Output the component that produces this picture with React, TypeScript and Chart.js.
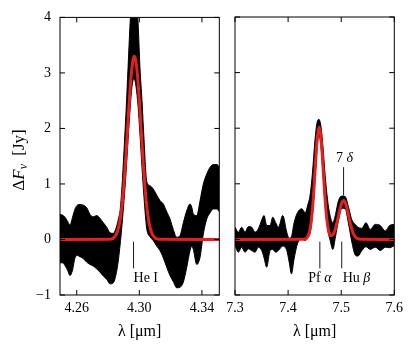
import React, { useEffect, useRef } from 'react';
import { Chart, registerables } from 'chart.js';

Chart.register(...registerables);

const FAMILY = '"Liberation Serif", "DejaVu Serif", serif';
const RED = '#e3201f';

// ---------- Left panel: 4.3 micron region ----------
const leftWave = [
  4.2493, 4.2509, 4.2525, 4.2541, 4.2557, 4.2573, 4.2589, 4.2605, 4.2621, 4.2640,
  4.2664, 4.2685, 4.2706, 4.2728, 4.2749, 4.2770, 4.2792, 4.2813, 4.2834, 4.2856,
  4.2867, 4.2877, 4.2889, 4.2902, 4.2915, 4.2928, 4.2941, 4.2953, 4.2966, 4.2979,
  4.2992, 4.3004, 4.3017, 4.3030, 4.3047, 4.3068, 4.3089, 4.3111, 4.3132, 4.3153,
  4.3175, 4.3196, 4.3217, 4.3239, 4.3260, 4.3281, 4.3303, 4.3324, 4.3335, 4.3345,
  4.3367, 4.3388, 4.3409, 4.3431, 4.3452, 4.3473, 4.3495, 4.3511,
];
const leftUpper = [
  0.45, 0.44, 0.40, 0.33, 0.26, 0.40, 0.55, 0.62, 0.63, 0.62,
  0.57, 0.45, 0.41, 0.43, 0.38, 0.30, 0.22, 0.12, 0.11, 0.25,
  0.38, 0.52, 0.95, 1.60, 2.30, 3.10, 3.90, 4.40, 4.60, 4.40,
  3.90, 3.10, 2.50, 1.80, 1.05, 0.97, 0.91, 0.80, 0.70, 0.64,
  0.50, 0.37, 0.18, 0.04, 0.07, 0.30, 0.52, 0.64, 0.58, 0.46,
  0.43, 0.70, 1.00, 1.18, 1.30, 1.35, 1.35, 1.31,
];
const leftLower = [
  -0.42, -0.42, -0.47, -0.55, -0.65, -0.55, -0.33, -0.29, -0.31, -0.34,
  -0.41, -0.45, -0.48, -0.53, -0.59, -0.66, -0.72, -0.80, -0.78, -0.56,
  -0.35, -0.10, 0.25, 0.70, 1.20, 1.80, 2.35, 2.75, 2.90, 2.75,
  2.40, 1.90, 1.30, 0.75, 0.20, 0.05, -0.02, -0.12, -0.20, -0.33,
  -0.50, -0.65, -0.76, -0.87, -0.86, -0.77, -0.50, -0.20, -0.12, -0.18,
  -0.45, -0.32, 0.10, 0.37, 0.48, 0.55, 0.55, 0.50,
];
const leftFitWave = [
  4.2493, 4.2810, 4.2830, 4.2850, 4.2870, 4.2880, 4.2890, 4.2900, 4.2910, 4.2920,
  4.2930, 4.2940, 4.2950, 4.2960, 4.2968, 4.2976, 4.2986, 4.2996, 4.3006, 4.3016,
  4.3026, 4.3036, 4.3046, 4.3056, 4.3066, 4.3086, 4.3106, 4.3126, 4.3511,
];
const leftFitFlux = [
  0, 0.004, 0.019, 0.077, 0.246, 0.406, 0.637, 0.945, 1.33, 1.77,
  2.23, 2.67, 3.02, 3.24, 3.30, 3.24, 3.02, 2.67, 2.23, 1.77,
  1.33, 0.945, 0.637, 0.406, 0.246, 0.077, 0.019, 0.004, 0,
];
const leftXTicks = [4.26, 4.30, 4.34];
const leftLineNames = ['He I'];
const leftLineWaves = [4.2963];

// ---------- Right panel: 7.5 micron region ----------
const rightWave = [
  7.3000, 7.3063, 7.3126, 7.3189, 7.3252, 7.3314, 7.3377, 7.3440, 7.3503, 7.3547,
  7.3597, 7.3660, 7.3711, 7.3767, 7.3818, 7.3899, 7.3975, 7.4019, 7.4063, 7.4113,
  7.4176, 7.4258, 7.4321, 7.4371, 7.4415, 7.4459, 7.4503, 7.4541, 7.4579, 7.4616,
  7.4654, 7.4698, 7.4742, 7.4792, 7.4843, 7.4893, 7.4950, 7.5013, 7.5075, 7.5138,
  7.5201, 7.5264, 7.5314, 7.5390, 7.5465, 7.5547, 7.5642, 7.5736, 7.5830, 7.5912,
  7.6000,
];
const rightUpper = [
  0.22, 0.13, 0.22, 0.13, 0.23, 0.22, 0.13, 0.19, 0.35, 0.43,
  0.25, 0.25, 0.40, 0.30, 0.22, 0.43, 0.13, 0.02, 0.05, 0.30,
  0.48, 0.55, 0.48, 0.62, 0.80, 1.20, 1.75, 2.08, 2.16, 2.05,
  1.70, 1.15, 0.72, 0.42, 0.30, 0.45, 0.70, 0.78, 0.77, 0.58,
  0.35, 0.27, 0.22, 0.20, 0.30, 0.18, 0.27, 0.25, 0.15, 0.25,
  0.27,
];
const rightLower = [
  -0.11, -0.23, -0.14, -0.23, -0.17, -0.20, -0.23, -0.14, -0.20, -0.33,
  -0.50, -0.20, -0.18, -0.23, -0.20, -0.12, -0.20, -0.40, -0.62, -0.35,
  -0.08, 0.02, -0.02, 0.03, 0.12, 0.45, 1.02, 1.58, 1.88, 1.70,
  1.22, 0.62, 0.20, -0.02, -0.18, 0.05, 0.35, 0.56, 0.55, 0.28,
  -0.05, -0.28, -0.30, -0.20, -0.13, -0.18, -0.14, -0.20, -0.14, -0.15,
  -0.11,
];
const rightFitWave = [
  7.3000, 7.4300, 7.4350, 7.4400, 7.4430, 7.4460, 7.4490, 7.4520, 7.4550, 7.4585,
  7.4620, 7.4650, 7.4680, 7.4710, 7.4740, 7.4770, 7.4800, 7.4830, 7.4860, 7.4890,
  7.4920, 7.4950, 7.4980, 7.5010, 7.5044, 7.5080, 7.5110, 7.5140, 7.5170, 7.5200,
  7.5240, 7.5280, 7.5330, 7.5400, 7.6000,
];
const rightFitFlux = [
  0, 0.003, 0.022, 0.121, 0.281, 0.559, 0.962, 1.428, 1.826, 2.02,
  1.826, 1.428, 0.963, 0.560, 0.285, 0.132, 0.071, 0.070, 0.111, 0.189,
  0.299, 0.429, 0.558, 0.657, 0.70, 0.652, 0.550, 0.420, 0.291, 0.182,
  0.083, 0.032, 0.008, 0.001, 0,
];
const rightXTicks = [7.3, 7.4, 7.5, 7.6];
const rightLineNames = ['Pf α', 'Hu β'];
const rightLineWaves = [7.4598, 7.5010];
const rightUpperNames = ['7 δ'];
const rightUpperWaves = [7.5045];

const yTicks = [-1, 0, 1, 2, 3, 4];

// ---------- drawing helpers ----------
const isGreek = (c: string) => {
  const code = c.charCodeAt(0);
  return code >= 0x370 && code <= 0x3ff;
};

function splitRuns(text: string) {
  const runs: { t: string; it: boolean }[] = [];
  for (const ch of text) {
    const it = isGreek(ch);
    const last = runs[runs.length - 1];
    if (last && last.it === it) last.t += ch;
    else runs.push({ t: ch, it });
  }
  return runs;
}

function drawRich(ctx: CanvasRenderingContext2D, text: string, x: number, y: number, align: string, size: number) {
  const runs = splitRuns(text);
  const fontOf = (it: boolean) => `${it ? 'italic ' : ''}${size}px ${FAMILY}`;
  let total = 0;
  const widths = runs.map((r) => {
    ctx.font = fontOf(r.it);
    const w = ctx.measureText(r.t).width;
    total += w;
    return w;
  });
  let cx = align === 'center' ? x - total / 2 : align === 'right' ? x - total : x;
  ctx.textAlign = 'left';
  ctx.textBaseline = 'middle';
  runs.forEach((r, i) => {
    ctx.font = fontOf(r.it);
    ctx.fillText(r.t, cx, y);
    cx += widths[i];
  });
}

const decorPlugin = {
  id: 'panelDecor',
  afterDatasetsDraw(chart: any, _args: any, opts: any) {
    const ctx: CanvasRenderingContext2D = chart.ctx;
    const { left, right, top, bottom } = chart.chartArea;
    const xs = chart.scales.x;
    const ys = chart.scales.y;
    ctx.save();
    ctx.strokeStyle = '#000';
    ctx.fillStyle = '#000';
    ctx.lineWidth = 1;
    // frame
    ctx.strokeRect(left, top, right - left, bottom - top);
    // inward ticks
    const tl = 5;
    ctx.beginPath();
    (opts.xTicks || []).forEach((v: number) => {
      const px = xs.getPixelForValue(v);
      ctx.moveTo(px, bottom);
      ctx.lineTo(px, bottom - tl);
      ctx.moveTo(px, top);
      ctx.lineTo(px, top + tl);
    });
    yTicks.forEach((v) => {
      const py = ys.getPixelForValue(v);
      ctx.moveTo(left, py);
      ctx.lineTo(left + tl, py);
      ctx.moveTo(right, py);
      ctx.lineTo(right - tl, py);
    });
    ctx.stroke();
    // line identifications below the continuum
    const lineW = 0.9;
    (opts.lines || []).forEach((ln: any) => {
      const px = xs.getPixelForValue(ln.wave);
      ctx.lineWidth = lineW;
      ctx.beginPath();
      ctx.moveTo(px, ys.getPixelForValue(-0.04));
      ctx.lineTo(px, ys.getPixelForValue(-0.52));
      ctx.stroke();
      drawRich(ctx, ln.name, px + (ln.dx || 0), ys.getPixelForValue(-0.70), ln.align, 14);
    });
    // identifications above a feature
    (opts.upperLines || []).forEach((ln: any) => {
      const px = xs.getPixelForValue(ln.wave);
      ctx.lineWidth = lineW;
      ctx.beginPath();
      ctx.moveTo(px, ys.getPixelForValue(0.79));
      ctx.lineTo(px, ys.getPixelForValue(1.30));
      ctx.stroke();
      drawRich(ctx, ln.name, px + (ln.dx || 0), ys.getPixelForValue(1.46), 'center', 14);
    });
    // y-axis title
    if (opts.yTitle) {
      ctx.save();
      ctx.translate(19.5, 160);
      ctx.rotate(-Math.PI / 2);
      const segs = [
        { t: 'Δ', f: `17px ${FAMILY}`, dy: 0 },
        { t: 'F', f: `italic 17px ${FAMILY}`, dy: 0 },
        { t: 'ν', f: `italic 12px ${FAMILY}`, dy: 4 },
        { t: ' ', f: `17px ${FAMILY}`, dy: 0 },
        { t: '[Jy]', f: `17px ${FAMILY}`, dy: 0 },
      ];
      let total = 0;
      const ws = segs.map((s) => {
        ctx.font = s.f;
        const w = ctx.measureText(s.t).width + (s.t === ' ' ? 3 : 0) + (s.t === 'ν' ? 1 : 0);
        total += w;
        return w;
      });
      let cx = -total / 2;
      ctx.textAlign = 'left';
      ctx.textBaseline = 'middle';
      segs.forEach((s, i) => {
        ctx.font = s.f;
        ctx.fillText(s.t, cx, s.dy);
        cx += ws[i];
      });
      ctx.restore();
    }
    ctx.restore();
  },
};

function pts(xs: number[], ys: number[]) {
  return xs.map((x, i) => ({ x, y: ys[i] }));
}

function makeConfig(p: any) {
  const tickFont = { family: FAMILY, size: 14 };
  return {
    type: 'line',
    data: {
      datasets: [
        {
          label: 'fit',
          data: pts(p.fitX, p.fitY),
          borderColor: RED,
          borderWidth: 3,
          pointRadius: 0,
          fill: false,
          cubicInterpolationMode: 'monotone',
          clip: 0,
        },
        {
          label: 'lower',
          data: pts(p.wave, p.lower),
          borderColor: '#000',
          borderWidth: 1,
          pointRadius: 0,
          fill: false,
          cubicInterpolationMode: 'monotone',
          clip: 0,
        },
        {
          label: 'upper',
          data: pts(p.wave, p.upper),
          borderColor: '#000',
          backgroundColor: '#000',
          borderWidth: 1,
          pointRadius: 0,
          fill: '-1',
          cubicInterpolationMode: 'monotone',
          clip: 0,
        },
      ],
    },
    options: {
      animation: false,
      responsive: false,
      devicePixelRatio: 1,
      events: [],
      layout: { padding: { left: p.padLeft, right: p.padRight, top: 17, bottom: 0 } },
      plugins: {
        legend: { display: false },
        tooltip: { enabled: false },
        panelDecor: {
          xTicks: p.xTicks,
          lines: p.lines,
          upperLines: p.upperLines,
          yTitle: p.yTitle,
        },
      },
      scales: {
        x: {
          type: 'linear',
          min: p.xMin,
          max: p.xMax,
          afterBuildTicks: (s: any) => {
            s.ticks = p.xTicks.map((v: number) => ({ value: v }));
          },
          afterFit: (s: any) => {
            s.height = 55;
          },
          grid: { display: false, drawTicks: false },
          border: { display: false },
          ticks: {
            font: tickFont,
            color: '#000',
            padding: 5,
            maxRotation: 0,
            autoSkip: false,
            callback: (v: any) => Number(v).toFixed(p.xDecimals),
          },
          title: {
            display: true,
            text: 'λ [μm]',
            font: { family: FAMILY, size: 16 },
            color: '#000',
            padding: { top: 0, bottom: 9 },
          },
        },
        y: {
          type: 'linear',
          min: -1,
          max: 4,
          display: p.showY,
          afterBuildTicks: (s: any) => {
            s.ticks = yTicks.map((v) => ({ value: v }));
          },
          afterFit: (s: any) => {
            s.width = p.showY ? 60 : 0;
          },
          grid: { display: false, drawTicks: false },
          border: { display: false },
          ticks: {
            font: tickFont,
            color: '#000',
            padding: 9,
            callback: (v: any) => (v < 0 ? '\u2212' + Math.abs(v) : String(v)),
          },
        },
      },
    },
    plugins: [decorPlugin],
  };
}

function Panel({ cfg, left, width }: { cfg: any; left: number; width: number }) {
  const ref = useRef<HTMLCanvasElement | null>(null);
  useEffect(() => {
    if (!ref.current) return;
    const chart = new Chart(ref.current, makeConfig(cfg) as any);
    return () => chart.destroy();
  }, []);
  return (
    <canvas
      ref={ref}
      width={width}
      height={350}
      style={{ position: 'absolute', left, top: 0, width, height: 350 }}
    />
  );
}

const leftCfg = {
  wave: leftWave,
  upper: leftUpper,
  lower: leftLower,
  fitX: leftFitWave,
  fitY: leftFitFlux,
  xMin: 4.2493,
  xMax: 4.3511,
  xTicks: leftXTicks,
  xDecimals: 2,
  showY: true,
  padLeft: 0,
  padRight: 0.7,
  yTitle: true,
  lines: leftLineNames.map((name, i) => ({ name, wave: leftLineWaves[i], align: 'left', dx: 0 })),
  upperLines: [],
};

const rightCfg = {
  wave: rightWave,
  upper: rightUpper,
  lower: rightLower,
  fitX: rightFitWave,
  fitY: rightFitFlux,
  xMin: 7.3,
  xMax: 7.6,
  xTicks: rightXTicks,
  xDecimals: 1,
  showY: false,
  padLeft: 15,
  padRight: 21.7,
  yTitle: false,
  lines: rightLineNames.map((name, i) => ({
    name,
    wave: rightLineWaves[i],
    align: i === 0 ? 'center' : 'left',
    dx: i === 0 ? 0 : 1,
  })),
  upperLines: rightUpperNames.map((name, i) => ({ name, wave: rightUpperWaves[i], dx: 1 })),
};

export default function App() {
  return (
    <div
      style={{
        position: 'absolute',
        left: 0,
        top: 0,
        width: 416,
        height: 350,
        background: '#fff',
        overflow: 'hidden',
      }}
    >
      <Panel cfg={leftCfg} left={0} width={220} />
      <Panel cfg={rightCfg} left={220} width={196} />
    </div>
  );
}
